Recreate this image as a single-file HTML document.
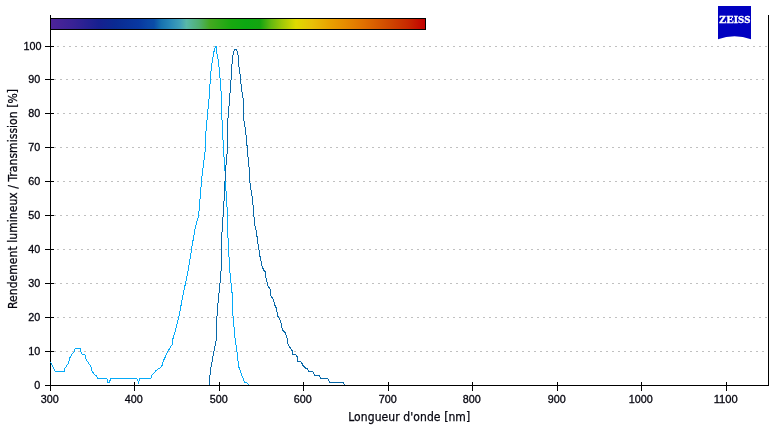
<!DOCTYPE html>
<html lang="fr">
<head>
<meta charset="utf-8">
<title>Spectre</title>
<style>
html,body{margin:0;padding:0;background:#fff;}
body{width:783px;height:426px;overflow:hidden;}
svg{display:block;}
text{font-family:"DejaVu Sans Condensed", "Liberation Sans", sans-serif;font-size:11px;fill:#05050f;stroke:#05050f;stroke-width:0.25px;}
text.t{font-family:"Liberation Sans","DejaVu Sans Condensed",sans-serif;stroke-width:0.3px;}
</style>
</head>
<body>
<svg width="783" height="426" viewBox="0 0 783 426">
<defs>
<linearGradient id="spec" gradientUnits="userSpaceOnUse" x1="50" y1="0" x2="425" y2="0">
<stop offset="0.0000" stop-color="#4e2499"/>
<stop offset="0.0627" stop-color="#382296"/>
<stop offset="0.1307" stop-color="#162090"/>
<stop offset="0.1733" stop-color="#0a2a92"/>
<stop offset="0.2373" stop-color="#0838a0"/>
<stop offset="0.2613" stop-color="#0a46a6"/>
<stop offset="0.2773" stop-color="#0a4ca8"/>
<stop offset="0.2960" stop-color="#1672b0"/>
<stop offset="0.3200" stop-color="#2888b8"/>
<stop offset="0.3467" stop-color="#40a0b8"/>
<stop offset="0.3640" stop-color="#58b8a8"/>
<stop offset="0.3973" stop-color="#50b070"/>
<stop offset="0.4267" stop-color="#44a820"/>
<stop offset="0.4827" stop-color="#18a810"/>
<stop offset="0.5227" stop-color="#0ca812"/>
<stop offset="0.5600" stop-color="#14a410"/>
<stop offset="0.5893" stop-color="#64b810"/>
<stop offset="0.6187" stop-color="#a0c808"/>
<stop offset="0.6560" stop-color="#e0da00"/>
<stop offset="0.6987" stop-color="#e8c008"/>
<stop offset="0.7493" stop-color="#e8a000"/>
<stop offset="0.7867" stop-color="#e68c00"/>
<stop offset="0.8360" stop-color="#e07000"/>
<stop offset="0.9040" stop-color="#d04800"/>
<stop offset="0.9547" stop-color="#c82800"/>
<stop offset="1.0000" stop-color="#c00000"/>
</linearGradient>
</defs>
<rect width="783" height="426" fill="#fff"/>
<line x1="54" y1="351.5" x2="768" y2="351.5" stroke="#c0c0c0" stroke-width="1" stroke-dasharray="2 4" shape-rendering="crispEdges"/>
<line x1="57" y1="317.5" x2="768" y2="317.5" stroke="#c0c0c0" stroke-width="1" stroke-dasharray="2 4" shape-rendering="crispEdges"/>
<line x1="54" y1="283.5" x2="768" y2="283.5" stroke="#c0c0c0" stroke-width="1" stroke-dasharray="2 4" shape-rendering="crispEdges"/>
<line x1="57" y1="249.5" x2="768" y2="249.5" stroke="#c0c0c0" stroke-width="1" stroke-dasharray="2 4" shape-rendering="crispEdges"/>
<line x1="54" y1="215.5" x2="768" y2="215.5" stroke="#c0c0c0" stroke-width="1" stroke-dasharray="2 4" shape-rendering="crispEdges"/>
<line x1="57" y1="181.5" x2="768" y2="181.5" stroke="#c0c0c0" stroke-width="1" stroke-dasharray="2 4" shape-rendering="crispEdges"/>
<line x1="54" y1="147.5" x2="768" y2="147.5" stroke="#c0c0c0" stroke-width="1" stroke-dasharray="2 4" shape-rendering="crispEdges"/>
<line x1="57" y1="113.5" x2="768" y2="113.5" stroke="#c0c0c0" stroke-width="1" stroke-dasharray="2 4" shape-rendering="crispEdges"/>
<line x1="54" y1="79.5" x2="768" y2="79.5" stroke="#c0c0c0" stroke-width="1" stroke-dasharray="2 4" shape-rendering="crispEdges"/>
<line x1="57" y1="46.5" x2="768" y2="46.5" stroke="#c0c0c0" stroke-width="1" stroke-dasharray="2 4" shape-rendering="crispEdges"/>
<rect x="50.5" y="18.5" width="375" height="11" fill="url(#spec)" stroke="#000" stroke-width="1" shape-rendering="crispEdges"/>
<g stroke="#000" stroke-width="1" shape-rendering="crispEdges">
<line x1="50.5" y1="15" x2="50.5" y2="391"/>
<line x1="45" y1="385.5" x2="769" y2="385.5"/>
<line x1="768.5" y1="15" x2="768.5" y2="386"/>
<line x1="45" y1="351.5" x2="54" y2="351.5"/>
<line x1="45" y1="317.5" x2="54" y2="317.5"/>
<line x1="45" y1="283.5" x2="54" y2="283.5"/>
<line x1="45" y1="249.5" x2="54" y2="249.5"/>
<line x1="45" y1="215.5" x2="54" y2="215.5"/>
<line x1="45" y1="181.5" x2="54" y2="181.5"/>
<line x1="45" y1="147.5" x2="54" y2="147.5"/>
<line x1="45" y1="113.5" x2="54" y2="113.5"/>
<line x1="45" y1="79.5" x2="54" y2="79.5"/>
<line x1="45" y1="46.5" x2="54" y2="46.5"/>
<line x1="134.5" y1="382" x2="134.5" y2="391"/>
<line x1="219.5" y1="382" x2="219.5" y2="391"/>
<line x1="303.5" y1="382" x2="303.5" y2="391"/>
<line x1="388.5" y1="382" x2="388.5" y2="391"/>
<line x1="472.5" y1="382" x2="472.5" y2="391"/>
<line x1="557.5" y1="382" x2="557.5" y2="391"/>
<line x1="641.5" y1="382" x2="641.5" y2="391"/>
<line x1="726.5" y1="382" x2="726.5" y2="391"/>
</g>
<text class="t" x="40.2" y="389" text-anchor="end" textLength="6" lengthAdjust="spacingAndGlyphs">0</text>
<text class="t" x="40.2" y="355" text-anchor="end" textLength="12" lengthAdjust="spacingAndGlyphs">10</text>
<text class="t" x="40.2" y="321" text-anchor="end" textLength="12" lengthAdjust="spacingAndGlyphs">20</text>
<text class="t" x="40.2" y="287" text-anchor="end" textLength="12" lengthAdjust="spacingAndGlyphs">30</text>
<text class="t" x="40.2" y="253" text-anchor="end" textLength="12" lengthAdjust="spacingAndGlyphs">40</text>
<text class="t" x="40.2" y="219" text-anchor="end" textLength="12" lengthAdjust="spacingAndGlyphs">50</text>
<text class="t" x="40.2" y="185" text-anchor="end" textLength="12" lengthAdjust="spacingAndGlyphs">60</text>
<text class="t" x="40.2" y="151" text-anchor="end" textLength="12" lengthAdjust="spacingAndGlyphs">70</text>
<text class="t" x="40.2" y="117" text-anchor="end" textLength="12" lengthAdjust="spacingAndGlyphs">80</text>
<text class="t" x="40.2" y="83" text-anchor="end" textLength="12" lengthAdjust="spacingAndGlyphs">90</text>
<text class="t" x="41.6" y="50" text-anchor="end" textLength="18" lengthAdjust="spacingAndGlyphs">100</text>
<text class="t" x="49.7" y="403" text-anchor="middle" textLength="18" lengthAdjust="spacingAndGlyphs">300</text>
<text class="t" x="133.7" y="403" text-anchor="middle" textLength="18" lengthAdjust="spacingAndGlyphs">400</text>
<text class="t" x="218.7" y="403" text-anchor="middle" textLength="18" lengthAdjust="spacingAndGlyphs">500</text>
<text class="t" x="302.7" y="403" text-anchor="middle" textLength="18" lengthAdjust="spacingAndGlyphs">600</text>
<text class="t" x="387.7" y="403" text-anchor="middle" textLength="18" lengthAdjust="spacingAndGlyphs">700</text>
<text class="t" x="471.7" y="403" text-anchor="middle" textLength="18" lengthAdjust="spacingAndGlyphs">800</text>
<text class="t" x="556.7" y="403" text-anchor="middle" textLength="18" lengthAdjust="spacingAndGlyphs">900</text>
<text class="t" x="640.7" y="403" text-anchor="middle" textLength="24" lengthAdjust="spacingAndGlyphs">1000</text>
<text class="t" x="725.7" y="403" text-anchor="middle" textLength="24" lengthAdjust="spacingAndGlyphs">1100</text>
<text x="409.2" y="421" text-anchor="middle" textLength="122" lengthAdjust="spacing" style="font-size:12px">Longueur d'onde [nm]</text>
<text transform="translate(17,199) rotate(-90)" text-anchor="middle" textLength="220" lengthAdjust="spacing" style="font-size:12px">Rendement lumineux / Transmission [%]</text>
<g id="logo">
<path d="M718 6 H751 V39.3 Q734.5 33.3 718 39.3 Z" fill="#0000c0"/>
<text x="719.1" y="22.9" textLength="31.3" lengthAdjust="spacingAndGlyphs" style="font-family:'Liberation Serif',serif;font-weight:bold;font-size:10px;fill:#fff;stroke:#fff;stroke-width:0.35px">ZEISS</text>
</g>
<polyline points="50.5,362 55.2,371.4 64.4,371.4 64.9,368.2 68,364 70,357.6 71.7,354.7 74.1,351.7 75.3,348.4 80,348.4 80.9,351.7 82.3,354.3 84.9,354.6 85.8,358.8 88.8,363.5 91.5,367.6 91.9,370.8 94.6,375 96.4,375.4 97.3,378.3 106.9,378.3 107.5,382.3 109.3,382.3 111.0,378.3 136.8,378.3 138.5,382.4 140.1,378.3 150.8,378.3 151.8,375.4 155.4,371.3 158.2,368.7 160.3,367.7 162.4,365.2 162.7,362.4 168,351.1 172,344.8 173,338.5 175.6,330 178.9,316.5 183.8,291.1 185.5,283.4 188.3,270 191.5,249.4 195.1,228.3 198.6,215.6 199.1,210 200.7,190.8 202.1,174.6 204.2,158.5 205.3,150 205.5,135.8 206.6,125.2 207.6,113.2 208.7,102 209.6,93 210.4,75.4 211.5,67 212.5,60 213.7,52.9 214.8,48 215.8,46.4 216.5,46.4 216.8,52.9 218.2,60 219.3,69.1 220,78.3 221,91 221.5,96 221.5,119.6 222.5,120.3 222.8,135.8 223.5,150 225,171 225.8,181 226,190.8 226.8,206.3 227.5,210 227.5,237.5 228.5,238.2 228.9,255 229.7,270 231,283.4 232.4,296 233.1,318.6 234.3,330 235.2,339.9 236.9,351.1 238.7,366.6 242.3,376.5 244.4,382.1 246.5,382.8 248.9,385" fill="none" stroke="#04aaf8" stroke-width="1" shape-rendering="crispEdges"/>
<polyline points="209.3,385 210.3,370.8 214.5,348.3 216.2,339.9 216.4,330 216.5,322 218.3,299.6 219.7,286.9 221.1,270 221.5,241 222.5,224.1 223.5,210 224.6,190 225.4,172.5 226.8,155.6 227.4,150 227.5,124.5 228.7,110.4 229.6,97 230.4,90 230.6,85.3 231.5,74 232.4,57.1 233.7,52.2 234.5,49.5 236.5,49.5 237.3,52.2 238.6,57.1 239,67 240,74 240.8,82.5 241.8,91 243.2,99.2 243.5,118.2 245.4,129.4 246.5,139.3 247.4,150 247.9,156.3 248.9,164.8 249.7,181 251.1,190.8 252.5,199.3 253.5,210 254.5,224.1 256.3,231.1 258,243.8 259.7,255 261.8,265 263.5,270 265.4,272.1 266.1,278.5 268.2,286.9 270.3,289 271,296.1 273.4,299.6 274.8,305.2 276.3,308 277.6,315.8 280.1,320 281.1,323.5 282.5,330 285.2,332.8 287.6,340 287.6,343.5 292.3,351.1 292.9,354.3 295.8,354.5 297.6,357.6 297.9,361.1 300.9,361.5 302.9,365.2 305.6,368.2 307.6,368.5 308.7,371.4 312.8,371.4 314.6,375.2 319.3,375.2 320.5,378.4 327.9,378.4 329.5,382.2 342.8,382.2 344.5,385" fill="none" stroke="#0868a8" stroke-width="1" shape-rendering="crispEdges"/>
</svg>
</body>
</html>
